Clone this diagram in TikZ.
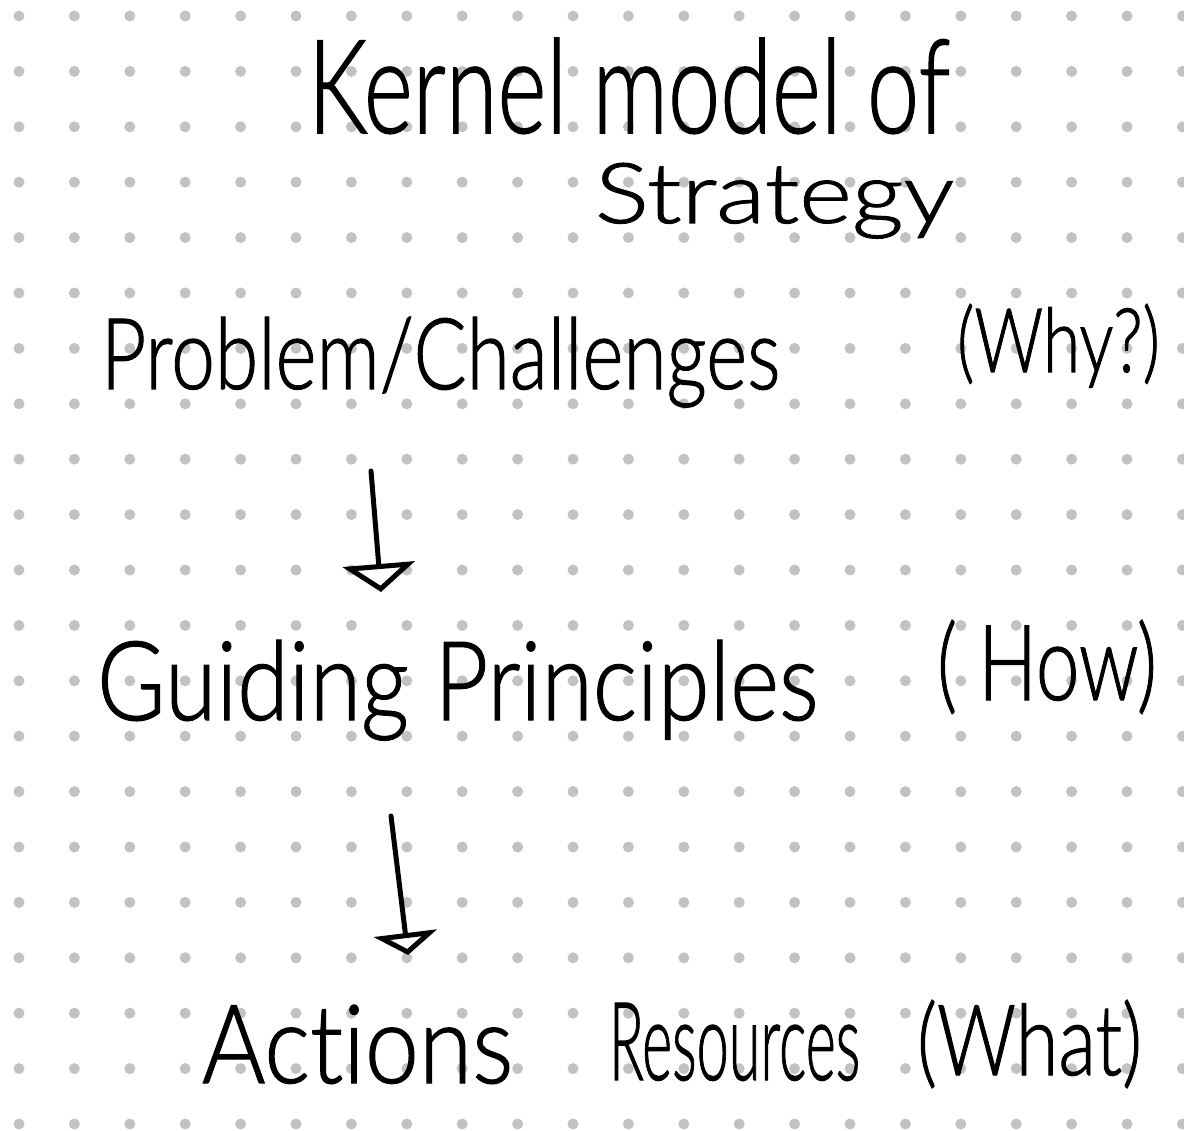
\documentclass[tikz,border=0pt]{standalone}
\usepackage{fontspec}
\setmainfont{Lato}[UprightFont=* Light, FakeBold=1.2, RawFeature={-liga;-clig;-dlig}]
\usepackage{graphicx}
\usetikzlibrary{arrows.meta}
\definecolor{dotc}{RGB}{194,194,194}
\definecolor{ink}{RGB}{0,0,0}
\newcommand{\hw}[3]{\resizebox{#1pt}{#2pt}{#3}}
\tikzset{
  txt/.style={anchor=base west, inner sep=0pt, outer sep=0pt, text=ink},
  flowarrow/.style={draw=ink, line width=5pt, line cap=round, line join=round},
}
\begin{document}
\begin{tikzpicture}[x=1pt,y=-1pt]
\useasboundingbox (0,0) rectangle (1184,1131);
\fill[white] (0,0) rectangle (1184,1131);
% dot grid
\foreach \i in {0,...,21}{
  \foreach \j in {0,...,20}{
    \fill[dotc] ({19+55.4*\i},{16+55.4*\j}) circle[radius=5.5];
  }
}
% texts
\node[txt] (title) at (308,133) {\hw{642}{95}{Kernel model of}};
\node[txt] (strat) at (595,223) {\hw{359}{60}{Strategy}};
\node[txt] (prob)  at (101,389) {\hw{679}{72}{Problem/Challenges}};
\node[txt] (why)   at (957,372) {\hw{203}{68}{(Why?)}};
\node[txt] (guid)  at (97,720)  {\hw{721}{80}{Guiding Principles}};
\node[txt] (how)   at (937,700) {\hw{220}{80}{( How)}};
\node[txt] (act)   at (202,1083) {\hw{311}{78}{Actions}};
\node[txt] (res)   at (609,1080) {\hw{251}{77}{Resources}};
\node[txt] (what)  at (917,1075) {\hw{225}{75}{(What)}};
% arrows
\coordinate (a1s) at (371,471);
\coordinate (a1e) at (381,592);
\coordinate (a2s) at (391,816);
\coordinate (a2e) at (408,955);
\draw[flowarrow, -{Triangle[open, length=28pt, width=72pt, line width=5pt]}] (a1s) -- (a1e);
\draw[flowarrow, -{Triangle[open, length=22pt, width=63pt, line width=5pt]}] (a2s) -- (a2e);
\end{tikzpicture}
\end{document}
